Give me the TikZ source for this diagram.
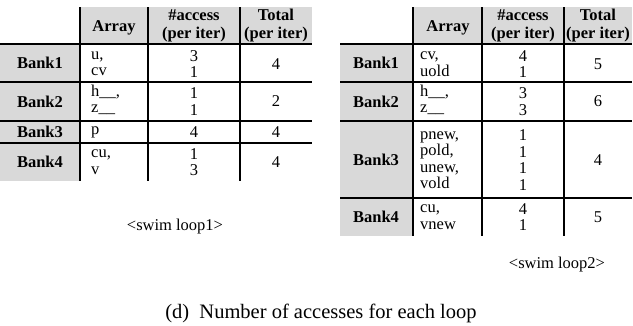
\documentclass[tikz,border=0pt]{standalone}
\usepackage{fontspec}
\setmainfont{Liberation Serif}
\definecolor{cellgray}{HTML}{D9D9D9}
\tikzset{
  gridline/.style={line width=2.6pt, black},
  txt/.style={font=\fontsize{16.5}{16.5}\selectfont, inner sep=0pt},
  btxt/.style={font=\fontsize{16.5}{18}\selectfont\bfseries, inner sep=0pt, align=center},
  arr/.style={txt, anchor=west, align=left},
  num/.style={txt, align=center},
  note/.style={font=\fontsize{16.5}{18}\selectfont, inner sep=0pt},
  captiontext/.style={font=\fontsize{20.5}{24}\selectfont, inner sep=0pt}
}
\begin{document}
\begin{tikzpicture}[x=1pt,y=-1pt]
\useasboundingbox (0,0) rectangle (633,325);
% ---------- left table ----------
\fill[cellgray] (80,7) rectangle (312,44);
\fill[cellgray] (0,44) rectangle (80,181);
\foreach \yy in {44,82,121,143} \draw[gridline] (0,\yy) -- (312,\yy);
\foreach \xx in {80,148,240} \draw[gridline] (\xx,7) -- (\xx,181);
\node[btxt] (lhA) at (114,28) {Array};
\node[btxt] (lhB) at (194,26) {\#access\\(per iter)};
\node[btxt] (lhC) at (276,26) {Total\\(per iter)};
\node[btxt] (lb1) at (40,63) {Bank1};
\node[btxt] (lb2) at (40,101.5) {Bank2};
\node[btxt] (lb3) at (40,132) {Bank3};
\node[btxt] (lb4) at (40,162) {Bank4};
\node[arr] (la1) at (91,64) {u,\\cv};
\node[arr] (la2) at (91,100) {h\_\_,\\z\_\_};
\node[arr] (la3) at (91,132) {p};
\node[arr] (la4) at (91,162) {cu,\\v};
\node[num] (ln1) at (194,64) {3\\1};
\node[num] (ln2) at (194,101.5) {1\\1};
\node[num] (ln3) at (194,132) {4};
\node[num] (ln4) at (194,162) {1\\3};
\node[num] (lt1) at (276,64) {4};
\node[num] (lt2) at (276,101.5) {2};
\node[num] (lt3) at (276,132) {4};
\node[num] (lt4) at (276,162) {4};
\node[note] (swim1) at (175,227) {<swim loop1>};
% ---------- right table ----------
\fill[cellgray] (413,7) rectangle (632,44);
\fill[cellgray] (340,44) rectangle (413,236);
\foreach \yy in {44,82,121,198} \draw[gridline] (340,\yy) -- (632,\yy);
\foreach \xx in {413,482,564} \draw[gridline] (\xx,7) -- (\xx,236);
\node[btxt] (rhA) at (448,28) {Array};
\node[btxt] (rhB) at (523,26) {\#access\\(per iter)};
\node[btxt] (rhC) at (598,26) {Total\\(per iter)};
\node[btxt] (rb1) at (376,63) {Bank1};
\node[btxt] (rb2) at (376,101.5) {Bank2};
\node[btxt] (rb3) at (376,159.5) {Bank3};
\node[btxt] (rb4) at (376,217) {Bank4};
\node[arr] (ra1) at (420,64) {cv,\\uold};
\node[arr] (ra2) at (420,100) {h\_\_,\\z\_\_};
\node[arr] (ra3) at (420,160) {pnew,\\pold,\\unew,\\vold};
\node[arr] (ra4) at (420,217) {cu,\\vnew};
\node[num] (rn1) at (523,64) {4\\1};
\node[num] (rn2) at (523,101.5) {3\\3};
\node[num] (rn3) at (523,160) {1\\1\\1\\1};
\node[num] (rn4) at (523,217) {4\\1};
\node[num] (rt1) at (598,64) {5};
\node[num] (rt2) at (598,101.5) {6};
\node[num] (rt3) at (598,160) {4};
\node[num] (rt4) at (598,217) {5};
\node[note] (swim2) at (557,265) {<swim loop2>};
% ---------- caption ----------
\node[captiontext] (caption) at (321,313) {(d)\hspace{0.5em}Number of accesses for each loop};
\end{tikzpicture}
\end{document}
